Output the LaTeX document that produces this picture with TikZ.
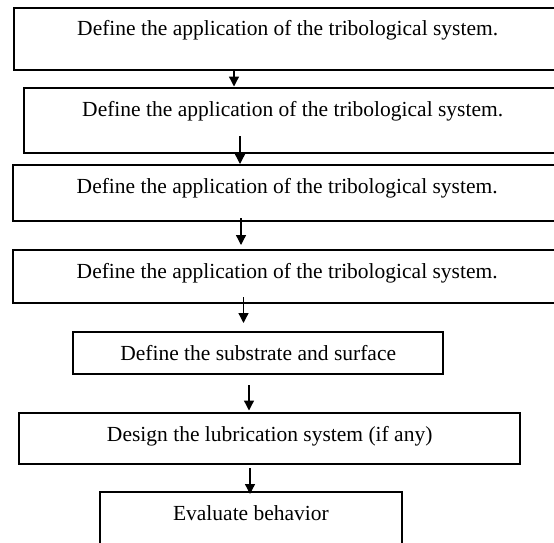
\documentclass[tikz,border=0pt]{standalone}
\usepackage{fontspec}
\setmainfont{Liberation Serif}
\usetikzlibrary{arrows.meta}
\begin{document}
\begin{tikzpicture}[x=1pt,y=-1pt,
  box/.style={draw=black, line width=2.4pt, rectangle, anchor=north west,
    inner xsep=0pt, inner ysep=0pt, align=center,
    font=\fontsize{21.5}{24}\selectfont},
  arr/.style={draw=black, line width=1.3pt, -{Triangle[length=10pt,width=10pt]}}]
\useasboundingbox (0,0) rectangle (554,542);
\clip (0,0) rectangle (554,542);
\fill[white] (0,0) rectangle (554,542);
\node[box, minimum width=548pt, text height=27.5pt, text depth=35pt] (b1) at (12.5,6.5) {Define the application of the tribological system.};
\node[box, minimum width=538pt, text height=29.2pt, text depth=36pt] (b2) at (22.5,86.5) {Define the application of the tribological system.};
\node[box, minimum width=548pt, text height=28.5pt, text depth=27pt] (b3) at (12,164) {Define the application of the tribological system.};
\node[box, minimum width=548pt, text height=28.5pt, text depth=24.5pt] (b4) at (12,248.5) {Define the application of the tribological system.};
\node[box, minimum width=370pt, text height=28pt, text depth=13.5pt] (b5) at (72,331) {Define the substrate and surface};
\node[box, minimum width=501pt, text height=29.2pt, text depth=21.8pt] (b6) at (18,411.5) {Design the lubrication system (if any)};
\node[box, minimum width=302.5pt, text height=28pt, text depth=41pt] (b7) at (98.5,491) {Evaluate behavior};
\coordinate (s1) at (234,69);
\coordinate (s2) at (240,136);
\coordinate (s3) at (241,218);
\coordinate (s4) at (243.5,297);
\coordinate (s5) at (249,385);
\coordinate (s6) at (250,468);
\draw[arr] (s1) -- (s1 |- b2.north);
\draw[arr] (s2) -- (s2 |- b3.north);
\draw[arr] (s3) -- ([yshift=3.5pt]s3 |- b4.north);
\draw[arr] (s4) -- ([yshift=8pt]s4 |- b5.north);
\draw[arr] (s5) -- ([yshift=1pt]s5 |- b6.north);
\draw[arr] (s6) -- ([yshift=-3pt]s6 |- b7.north);
\end{tikzpicture}
\end{document}
